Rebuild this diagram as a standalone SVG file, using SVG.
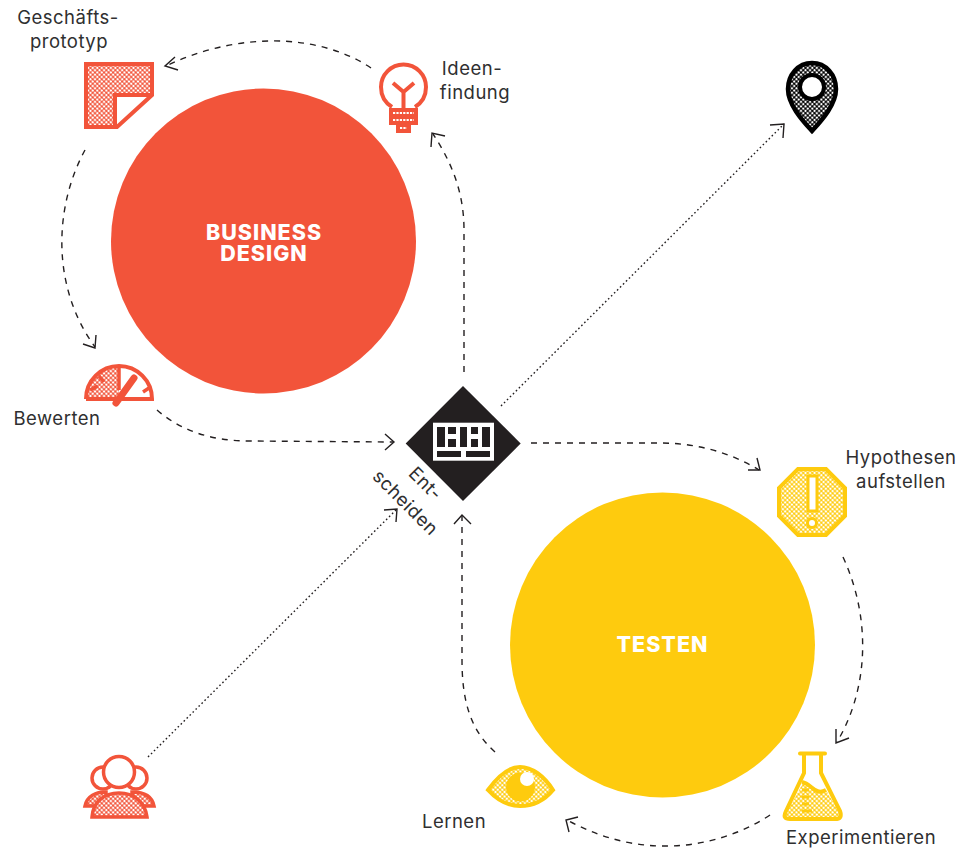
<svg xmlns="http://www.w3.org/2000/svg" width="968" height="848" viewBox="0 0 968 848">
<style>
text{font-family:"Inter","Liberation Sans",sans-serif;font-size:18.5px;letter-spacing:.5px;fill:#2f2f30;text-anchor:middle}
text.h{font-size:21.5px;font-weight:800;fill:#fff;letter-spacing:1px}
.d{fill:none;stroke:#231f20;stroke-width:1.4;stroke-dasharray:6 6}
.o{fill:none;stroke:#231f20;stroke-width:1.4;stroke-dasharray:1.6 2.6}
.a{fill:none;stroke:#231f20;stroke-width:1.4}
.r{fill:none;stroke:#f2543a;stroke-width:4}
.y{fill:none;stroke:#fecb0e;stroke-width:4}
</style>
<defs>
<pattern id="pr" width="3.2" height="3.2" patternUnits="userSpaceOnUse" patternTransform="rotate(45)"><rect width="3.2" height="3.2" fill="#f2543a"/><circle cx="1.6" cy="1.6" r="1.25" fill="#fff"/></pattern>
<pattern id="py" width="3.2" height="3.2" patternUnits="userSpaceOnUse" patternTransform="rotate(45)"><rect width="3.2" height="3.2" fill="#fecb0e"/><circle cx="1.6" cy="1.6" r="1.25" fill="#fff"/></pattern>
<pattern id="pk" width="3.2" height="3.2" patternUnits="userSpaceOnUse" patternTransform="rotate(45)"><rect width="3.2" height="3.2" fill="#000"/><circle cx="1.6" cy="1.6" r="1.2" fill="#fff"/></pattern>
</defs>
<g id="connectors">
<path class="d" d="M371 68C340 47 300 40 268 41C230 42 195 52 166 66"/><path class="a" d="M175 57L165 66L178 70"/>
<path class="d" d="M85 150C55 205 50 285 95 347"/><path class="a" d="M96 335L95 348L83 344"/>
<path class="d" d="M157 410C180 430 210 441 250 441L393 442"/><path class="a" d="M385 434L394 442L385 450"/>
<path class="d" d="M464 372L464 230C464 190 450 160 433 134"/><path class="a" d="M431 147L432 133L445 136"/>
<path class="d" d="M531 443L660 443C695 443 730 452 759 470"/><path class="a" d="M748 470L760 470L757 458"/>
<path class="d" d="M843 557C872 620 868 690 837 742"/><path class="a" d="M836 729L836 743L849 738"/>
<path class="d" d="M770 815C735 838 695 847 660 846C625 845 595 835 567 820"/><path class="a" d="M569 832L566 820L578 817"/>
<path class="d" d="M495 752C470 730 462 700 462 660L462 516"/><path class="a" d="M454 524L462 515L471 524"/>
<path class="o" d="M501 406L784 124"/><path class="a" d="M770 125L784 124L783 138"/>
<path class="o" d="M148 757L398 508"/><path class="a" d="M384 510L397 509L396 522"/>
</g>
<g id="business-design"><circle cx="263.500" cy="241" r="152.500" fill="#f2543a"/><text class="h"><tspan x="264" y="240">BUSINESS</tspan><tspan x="264" y="261">DESIGN</tspan></text></g>
<g id="testen"><circle cx="662.500" cy="645" r="152.500" fill="#fecb0e"/><text class="h" x="662.500" y="652">TESTEN</text></g>
<g id="prototyp"><path d="M86 64H152V95H115V127H86Z" fill="url(#pr)"/><path class="r" d="M115 127H86V64H152V95L117 127H115V95H152"/><text><tspan x="68" y="24">Geschäfts-</tspan><tspan x="69" y="48">prototyp</tspan></text></g>
<g id="ideenfindung"><path class="r" d="M392 107C384 102 381 94 381 87A22.500 22.500 0 0 1 426 87C426 94 423 102 415 107"/><path class="r" d="M403.500 108V92L393 83M403.500 92L414 83"/><path d="M389 108H418V125H411V133H396V125H389Z" fill="#f2543a"/><path d="M393 113H414M393 120H414M400 128H407" stroke="#fff" stroke-width="2.200" stroke-dasharray="2.200 1.200" fill="none"/><text><tspan x="472" y="75">Ideen-</tspan><tspan x="475" y="99">findung</tspan></text></g>
<g id="ziel"><path d="M812 63C798 63 788 75 788 89C788 105 803 121 812 131C821 121 836 105 836 89C836 75 826 63 812 63Z" fill="url(#pk)" stroke="#000" stroke-width="4.500"/><circle cx="812" cy="87" r="12" fill="#fff" stroke="#000" stroke-width="4"/></g>
<g id="bewerten"><path d="M119 367A33 33 0 0 0 86 398H119Z" fill="url(#pr)"/><path class="r" d="M86 399A33 33 0 0 1 152 399H86"/><path d="M119 366V390M90 390L98 386M99 376L104 382M143 392L149 388" fill="none" stroke="#f2543a" stroke-width="3.500"/><path d="M116 403L134 378" stroke="#f2543a" stroke-width="7" stroke-linecap="round" fill="none"/><text x="57" y="425">Bewerten</text></g>
<g id="entscheiden"><path d="M463 386L520.700 443.500L463 501L405.700 443.500Z" fill="#231f20"/><rect x="433" y="422.700" width="61" height="38" fill="#fff"/><path d="M437 427H445V447H437ZM448 427H456V434H448ZM448 439H456V447H448ZM460 427H467V447H460ZM471 427H478V434H471ZM471 439H478V447H471ZM482 427H490V447H482ZM437 451H461V457H437ZM466 451H490V457H466Z" fill="#231f20"/><text transform="translate(421 488) rotate(45)" x="0" y="0">Ent-</text><text transform="translate(401 507) rotate(45)" x="0" y="0">scheiden</text></g>
<g id="hypothesen"><path d="M798 469H826L845 488V516L826 535H798L779 516V488Z" fill="url(#py)" stroke="#fecb0e" stroke-width="4"/><rect x="808" y="476" width="9" height="35" fill="#fff" stroke="#fecb0e" stroke-width="3"/><circle cx="812" cy="523" r="4.500" fill="#fff" stroke="#fecb0e" stroke-width="3"/><text><tspan x="901" y="464">Hypothesen</tspan><tspan x="901" y="488">aufstellen</tspan></text></g>
<g id="experimentieren"><path d="M803 783C812 785 815 796 826 790L840 814C842 818 840 819 837 819H788C785 819 784 817 786 814Z" fill="url(#py)"/><path class="y" d="M804 754V773L786 811C783 817 785 819 790 819H835C840 819 842 817 840 811L821 773V754M800 753.500H825" stroke-linecap="round"/><path class="y" d="M802 782C812 784 815 796 826 790" stroke-width="3"/><path d="M802 790H809M802 797H809M802 804H809M802 811H812" stroke="#fecb0e" stroke-width="3" fill="none"/><text x="861" y="844">Experimentieren</text></g>
<g id="lernen"><path d="M488 790C498 776 508 767 520 767C532 767 544 776 553 790C544 801 532 806 520 806C508 806 498 801 488 790Z" fill="url(#py)" stroke="#fecb0e" stroke-width="4"/><circle cx="520.500" cy="787" r="14.500" fill="#fecb0e"/><circle cx="527" cy="779" r="7" fill="#fff"/><text x="454" y="828">Lernen</text></g>
<g id="kunden"><path d="M85 806C87 796 96 792 106 792V806Z M154 806C152 796 143 792 132 792V806Z" fill="url(#pr)" stroke="#f2543a" stroke-width="3.500"/><circle cx="103" cy="778" r="11" fill="#fff" stroke="#f2543a" stroke-width="3.500"/><circle cx="136" cy="778" r="11" fill="#fff" stroke="#f2543a" stroke-width="3.500"/><circle cx="119" cy="772" r="15.500" fill="#fff" stroke="#f2543a" stroke-width="3.500"/><path d="M92 817C93 802 104 793 119 793C134 793 145 802 147 817Z" fill="url(#pr)" stroke="#f2543a" stroke-width="3.500"/></g>
</svg>
